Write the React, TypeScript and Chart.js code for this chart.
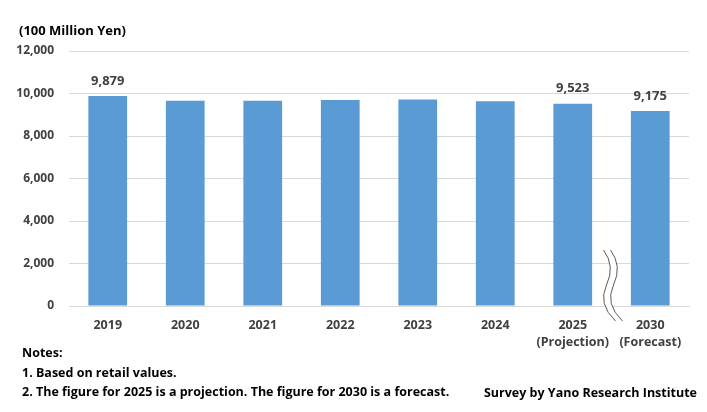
import { useEffect, useRef } from 'react';
import { Chart, registerables } from 'chart.js';

Chart.register(...registerables);

const years = [['2019'], ['2020'], ['2021'], ['2022'], ['2023'], ['2024'], ['2025', '(Projection)'], ['2030', '(Forecast)']];
const marketSize = [9879, 9660, 9660, 9690, 9720, 9630, 9523, 9175];
const labeled = [true, false, false, false, false, false, true, true];
const yTicks = [0, 2000, 4000, 6000, 8000, 10000, 12000];
const notes = ['Notes:', '1. Based on retail values.', '2. The figure for 2025 is a projection. The figure for 2030 is a forecast.'];

const FONT = '"Open Sans", "Liberation Sans", sans-serif';
const BAR = '#5b9bd5';

const valueLabels = {
  id: 'valueLabels',
  afterDatasetsDraw(chart: Chart) {
    const { ctx } = chart;
    const meta = chart.getDatasetMeta(0);
    ctx.save();
    ctx.font = `bold 13px ${FONT}`;
    ctx.fillStyle = '#404040';
    ctx.textAlign = 'center';
    ctx.textBaseline = 'middle';
    meta.data.forEach((bar: any, i: number) => {
      if (!labeled[i]) return;
      ctx.fillText(marketSize[i].toLocaleString('en-US'), bar.x, bar.y - 15);
    });
    ctx.restore();
  },
};

// wavy axis break between 2025 and 2030
const axisBreak = {
  id: 'axisBreak',
  afterDatasetsDraw(chart: Chart) {
    const { ctx } = chart;
    const cx = chart.scales.x.getPixelForValue(6.5);
    const y0 = chart.scales.y.getPixelForValue(0);
    const wave = (dx: number) => {
      ctx.moveTo(cx - 8 + dx, y0 - 56);
      ctx.quadraticCurveTo(cx + 4 + dx, y0 - 40, cx - 5 + dx, y0 - 21);
      ctx.quadraticCurveTo(cx - 14 + dx, y0 - 2, cx + 4 + dx, y0 + 15);
    };
    ctx.save();
    // white band between the two waves
    ctx.beginPath();
    wave(0);
    ctx.lineTo(cx + 11, y0 + 15);
    ctx.quadraticCurveTo(cx - 7, y0 - 2, cx + 2, y0 - 21);
    ctx.quadraticCurveTo(cx + 11, y0 - 40, cx - 1, y0 - 56);
    ctx.closePath();
    ctx.fillStyle = '#ffffff';
    ctx.fill();
    ctx.strokeStyle = '#595959';
    ctx.lineWidth = 1;
    ctx.beginPath();
    wave(0);
    ctx.stroke();
    ctx.beginPath();
    wave(7);
    ctx.stroke();
    ctx.restore();
  },
};

function MarketChart() {
  const canvasRef = useRef<HTMLCanvasElement>(null);
  const chartRef = useRef<Chart | null>(null);

  useEffect(() => {
    if (!canvasRef.current) return;
    chartRef.current?.destroy();
    chartRef.current = new Chart(canvasRef.current, {
      type: 'bar',
      data: {
        labels: years,
        datasets: [{ data: marketSize, backgroundColor: BAR, barPercentage: 0.5, categoryPercentage: 1 }],
      },
      options: {
        animation: false,
        responsive: false,
        maintainAspectRatio: false,
        layout: { padding: { top: 51, right: 18, left: 0, bottom: 0 } },
        plugins: { legend: { display: false }, tooltip: { enabled: false } },
        scales: {
          x: {
            grid: { display: false },
            border: { color: '#d9d9d9' },
            ticks: {
              color: '#404040',
              font: { family: FONT, size: 12.5, weight: 'bold', lineHeight: 1.35 },
              padding: 3,
              minRotation: 0,
              maxRotation: 0,
              autoSkip: false,
            },
            afterFit: (s: any) => { s.height = 106; },
          },
          y: {
            min: 0,
            max: 12000,
            afterBuildTicks: (s: any) => { s.ticks = yTicks.map((v) => ({ value: v })); },
            grid: { color: '#d9d9d9', drawTicks: false },
            border: { display: false },
            ticks: {
              color: '#404040',
              font: { family: FONT, size: 12, weight: 'bold' },
              padding: 15,
              callback: (v: any) => Number(v).toLocaleString('en-US'),
            },
            afterFit: (s: any) => { s.width = 69; },
          },
        },
      },
      plugins: [valueLabels, axisBreak],
    });
    return () => chartRef.current?.destroy();
  }, []);

  return <canvas ref={canvasRef} width={707} height={412} style={{ display: 'block' }} />;
}

export default function App() {
  useEffect(() => {
    document.body.style.margin = '0';
  }, []);
  const text = { position: 'absolute' as const, fontFamily: FONT, fontWeight: 'bold', color: '#000', fontSize: 12.5, whiteSpace: 'nowrap' as const };
  return (
    <div style={{ position: 'relative', width: 707, height: 412, background: '#fff', overflow: 'hidden' }}>
      <MarketChart />
      <div style={{ ...text, left: 19, top: 21, fontSize: 13 }}>(100 Million Yen)</div>
      {notes.map((n, i) => (
        <div key={i} style={{ ...text, left: 22, top: 344 + i * 19.5 }}>{n}</div>
      ))}
      <div style={{ ...text, right: 10, top: 384 }}>Survey by Yano Research Institute</div>
    </div>
  );
}
